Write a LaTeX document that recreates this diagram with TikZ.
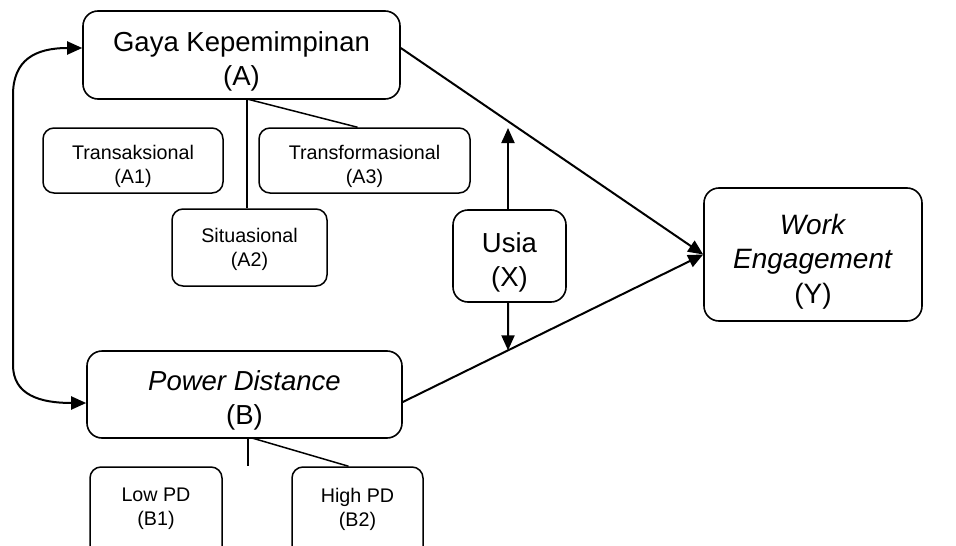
\documentclass[tikz,border=0pt]{standalone}
\usepackage{fontspec}
\setmainfont{Liberation Sans}
\usetikzlibrary{arrows.meta,calc}
\begin{document}
\begin{tikzpicture}[x=1pt,y=-1pt,
  bigbox/.style={draw,line width=1.6pt,rounded corners=15pt,inner sep=0pt},
  bigtext/.style={inner sep=0pt,align=center,font=\fontsize{27.5}{34}\selectfont},
  subbox/.style={draw,line width=1.5pt,rounded corners=11pt,inner sep=0pt},
  subtext/.style={inner sep=0pt,align=center,font=\fontsize{19.7}{24}\selectfont},
  arr/.style={line width=2pt,-{Triangle[length=15pt,width=13pt]}},
  dbl/.style={line width=2pt,{Triangle[length=15pt,width=13pt]}-{Triangle[length=15pt,width=13pt]}},
  link/.style={line width=1.5pt}]
\clip (0,0) rectangle (956,546);
\fill[white] (0,0) rectangle (956,546);
% main nodes
\node[bigbox,minimum width=317pt,minimum height=88pt] (A) at (241.5,55) {};
\node[bigtext] (At) at (241.5,61) {Gaya Kepemimpinan\\(A)};
\node[bigbox,minimum width=315pt,minimum height=87pt] (B) at (244.5,394.5) {};
\node[bigtext] (Bt) at (244.5,400.5) {\textit{Power Distance}\\(B)};
\node[bigbox,minimum width=113pt,minimum height=92pt] (X) at (509.5,256) {};
\node[bigtext] (Xt) at (509.5,262) {Usia\\(X)};
\node[bigbox,minimum width=218pt,minimum height=133pt] (Y) at (813,254.5) {};
\node[bigtext,font=\fontsize{28}{34.5}\selectfont] (Yt) at (813,261.5) {\textit{Work}\\\textit{Engagement}\\(Y)};
% sub nodes of A
\node[subbox,minimum width=180pt,minimum height=65pt] (A1) at (133,160.5) {};
\node[subtext] (A1t) at (133,166.5) {Transaksional\\(A1)};
\node[subbox,minimum width=211pt,minimum height=65pt] (A3) at (364.5,160.5) {};
\node[subtext] (A3t) at (364.5,166.5) {Transformasional\\(A3)};
\node[subbox,minimum width=155pt,minimum height=77pt] (A2) at (249.5,247.5) {};
\node[subtext] (A2t) at (249.5,249.5) {Situasional\\(A2)};
% sub nodes of B (cut by bottom edge)
\node[subbox,minimum width=132pt,minimum height=95pt] (B1) at (156,514.5) {};
\node[subtext] (B1t) at (156,509) {Low PD\\(B1)};
\node[subbox,minimum width=131pt,minimum height=95pt] (B2) at (357.5,514.5) {};
\node[subtext] (B2t) at (357.5,509) {High PD\\(B2)};
% coordinates
\coordinate (Aroot) at (247,99);
\coordinate (Broot) at (248,438);
\coordinate (Bend) at (248,466);
\coordinate (Xup) at (508,128);
\coordinate (Aout) at ([yshift=7pt]A.east);
\coordinate (Bout) at ([yshift=-7.5pt]B.east);
\coordinate (Ain) at ([yshift=7pt]A.west);
\coordinate (Bin) at ([yshift=-8.5pt]B.west);
% tree links
\draw[link] (Aroot) -- (Aroot |- A2.north);
\draw[link] (Aroot) -- ([xshift=-7pt]A3.north);
\draw[link] (Broot) -- (Bend);
\draw[link] ([xshift=4pt]Broot) -- ([xshift=-9pt]B2.north);
% main arrows
\draw[arr] (Aout) -- (Y.west);
\draw[arr] (Bout) -- (Y.west);
\draw[arr] ([xshift=-1.5pt]X.north) -- (Xup);
\draw[arr] ([xshift=-1.5pt]X.south) -- (intersection of {[xshift=-1.5pt]X.south}--{[xshift=-1.5pt]X.center} and Bout--Y.west);
\draw[dbl] (Ain) .. controls (35,48) and (13,60) .. (13,95) -- (13,365) .. controls (13,395) and (40,403) .. (Bin);
\end{tikzpicture}
\end{document}
